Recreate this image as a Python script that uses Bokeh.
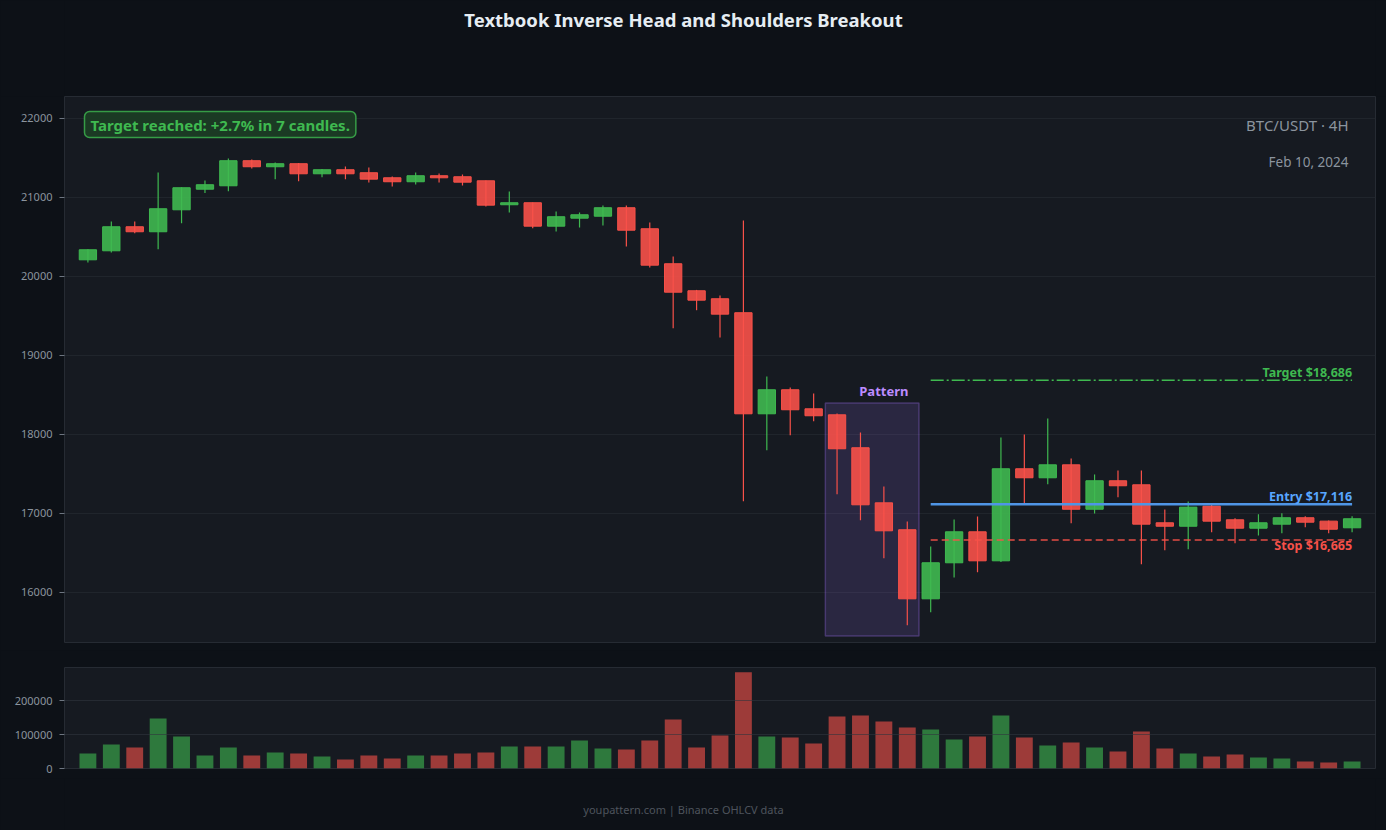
import numpy as np
from bokeh.plotting import figure
from bokeh.layouts import column
from bokeh.models import ColumnDataSource, Label, FixedTicker, NumeralTickFormatter, Range1d
from bokeh.embed import file_html
from bokeh.resources import INLINE
from bokeh.core.properties import value

# ---------------- data ----------------
opens = [20211, 20325, 20629, 20566, 20844, 21105, 21148, 21465, 21389, 21427,
         21300, 21351, 21313, 21249, 21199, 21275, 21262, 21211, 20908, 20933,
         20637, 20738, 20763, 20870, 20604, 20161, 19819, 19718, 19541, 18262,
         18566, 18325, 18249, 17832, 17135, 16794, 15920, 16376, 16768, 16401,
         17566, 17452, 17616, 17054, 17414, 17363, 16882, 16839, 17092, 16920,
         16814, 16865, 16946, 16903, 16819]
highs = [20345, 20696, 20696, 21316, 21130, 21215, 21494, 21480, 21443, 21435,
         21360, 21392, 21380, 21266, 21316, 21304, 21291, 21215, 21076, 20935,
         20823, 20810, 20899, 20899, 20684, 20253, 19830, 19759, 20709, 18734,
         18595, 18519, 18266, 18025, 17342, 16899, 16582, 16924, 16962, 17962,
         18000, 18203, 17696, 17494, 17544, 17544, 17051, 17152, 17130, 16941,
         16991, 17004, 16966, 16910, 16966]
lows = [20177, 20304, 20548, 20346, 20675, 21055, 21080, 21367, 21232, 21206,
        21257, 21232, 21190, 21139, 21165, 21190, 21152, 20886, 20810, 20611,
        20570, 20620, 20646, 20380, 20114, 19346, 19573, 19228, 17156, 17801,
        17991, 18168, 17244, 16915, 16434, 15586, 15751, 16190, 16257, 16385,
        17118, 17371, 16877, 17000, 17206, 16358, 16535, 16548, 16763, 16624,
        16722, 16751, 16827, 16751, 16763]
closes = [20338, 20629, 20566, 20857, 21123, 21161, 21465, 21389, 21427, 21300,
          21351, 21300, 21232, 21199, 21275, 21249, 21194, 20903, 20933, 20637,
          20756, 20781, 20870, 20586, 20143, 19801, 19700, 19523, 18262, 18566,
          18313, 18237, 17819, 17110, 16781, 15920, 16376, 16768, 16401, 17566,
          17452, 17616, 17054, 17414, 17351, 16865, 16839, 17080, 16903, 16814,
          16882, 16946, 16890, 16801, 16933]
volumes = [44300, 70900, 62100, 147800, 94600, 38400, 62100, 38400, 47300, 44300,
           35500, 26600, 38400, 29600, 38400, 38400, 44300, 47300, 65000, 65000,
           65000, 82800, 59100, 56200, 82800, 144800, 62100, 97500, 283700, 94600,
           91600, 73900, 153700, 156700, 138900, 121200, 115300, 85700, 94600, 156700,
           91600, 68000, 76800, 62100, 50200, 109400, 59100, 44300, 35500, 41400,
           32500, 29600, 20700, 17700, 20700]

price_ticks = [16000, 17000, 18000, 19000, 20000, 21000, 22000]
volume_ticks = [0, 100000, 200000]

pattern_first, pattern_last = 32, 35          # candle indices covered by the pattern box
pattern_low, pattern_high = 15450, 18400
breakout_index = 36
target_price, entry_price, stop_price = 18686, 17116, 16665

title_text = "Textbook Inverse Head and Shoulders Breakout"
footer_text = "youpattern.com | Binance OHLCV data"

# ---------------- styles ----------------
PAGE_BG = "#0d1117"
PANEL_BG = "#161a21"
OUTLINE = "#262b33"
GRID = "#232830"
TICK = "#8b949e"
GREEN = "#3fb950"
RED = "#f85149"
BLUE = "#58a6ff"
PURPLE = "#bc8cff"
FONT = "Noto Sans"
W = 1386
LEFT, RIGHT = 64, 11

n = len(opens)
idx = list(range(n))
colors = [GREEN if c >= o else RED for o, c in zip(opens, closes)]
src = ColumnDataSource(dict(
    x=idx, o=opens, h=highs, l=lows, c=closes, v=volumes,
    top=[max(o, c) for o, c in zip(opens, closes)],
    bottom=[min(o, c) for o, c in zip(opens, closes)],
    color=colors,
))


def text_strip(height):
    # frame spans page pixels LEFT .. W-RIGHT (aligned with the panels below)
    f = figure(width=W, height=height, output_backend="svg", toolbar_location=None,
               x_range=Range1d(LEFT, W - RIGHT), y_range=Range1d(height, 0),
               min_border_left=LEFT, min_border_right=RIGHT, min_border_top=0, min_border_bottom=0)
    f.axis.visible = False
    f.grid.visible = False
    f.outline_line_color = None
    f.background_fill_color = PAGE_BG
    f.border_fill_color = PAGE_BG
    return f


# ---------------- title strip ----------------
t = text_strip(96)
t.text(x=[W / 2 - 10], y=[19], text=[title_text], text_color="#e6edf3", text_font=value(FONT),
       text_font_style="bold", text_font_size="18.5px", text_align="center", text_baseline="middle")

# ---------------- main price panel ----------------
p = figure(width=W, height=554, output_backend="svg", toolbar_location=None,
           x_range=(-1, n), y_range=(15367, 22278),
           min_border_left=LEFT, min_border_right=RIGHT, min_border_top=0, min_border_bottom=8)
p.background_fill_color = PANEL_BG
p.border_fill_color = PAGE_BG
p.outline_line_color = OUTLINE
p.xaxis.visible = False
p.xgrid.visible = False
p.ygrid.grid_line_color = GRID
p.ygrid.grid_line_alpha = 0.8
p.yaxis.ticker = FixedTicker(ticks=price_ticks)
p.yaxis.axis_line_color = None
p.yaxis.major_tick_line_color = "#6e7681"
p.yaxis.major_tick_in = 0
p.yaxis.major_tick_out = 5
p.yaxis.minor_tick_line_color = None
p.yaxis.major_label_text_color = TICK
p.yaxis.major_label_text_font = FONT
p.yaxis.major_label_text_font_size = "11px"
p.yaxis.major_label_standoff = 7
p.yaxis.formatter = NumeralTickFormatter(format="0")

# pattern box
p.quad(left=[pattern_first - 0.5], right=[pattern_last + 0.5], bottom=[pattern_low], top=[pattern_high],
       fill_color="#a371f7", fill_alpha=0.15, line_color="#a371f7", line_alpha=0.3, line_width=1.5)
p.text(x=[(pattern_first + pattern_last) / 2 + 0.5], y=[pattern_high], text=["Pattern"],
       text_color=PURPLE, text_font=value(FONT), text_font_style="bold", text_font_size="13px",
       text_align="center", text_baseline="bottom", y_offset=-3)

# candles
p.segment(x0="x", y0="h", x1="x", y1="l", source=src, line_color="color", line_width=1.2)
p.vbar(x="x", width=0.74, top="top", bottom="bottom", source=src,
       fill_color="color", fill_alpha=0.9, line_color="color", line_width=1)

# levels
last = n - 1
p.line([breakout_index, last], [target_price, target_price], line_color=GREEN, line_width=1.6,
       line_dash="13 3 2 3")
p.line([breakout_index, last], [entry_price, entry_price], line_color="#4f95e6", line_width=2.5)
p.line([breakout_index, last], [stop_price, stop_price], line_color=RED, line_width=1.5,
       line_dash="7 4", line_alpha=0.9)
p.text(x=[last], y=[target_price], text=[f"Target ${target_price:,}"], text_color=GREEN,
       text_font=value(FONT), text_font_style="bold", text_font_size="12.5px",
       text_align="right", text_baseline="bottom", y_offset=1)
p.text(x=[last], y=[entry_price], text=[f"Entry ${entry_price:,}"], text_color=BLUE,
       text_font=value(FONT), text_font_style="bold", text_font_size="12.5px",
       text_align="right", text_baseline="bottom", y_offset=1)
p.text(x=[last], y=[stop_price], text=[f"Stop ${stop_price:,}"], text_color=RED,
       text_font=value(FONT), text_font_style="bold", text_font_size="12.5px",
       text_align="right", text_baseline="top", y_offset=-3)

FRAME_BOTTOM = 642
p.add_layout(Label(x=1348 - LEFT, y=FRAME_BOTTOM - 124, x_units="screen", y_units="screen",
                   text="BTC/USDT \u00b7 4H", text_color=TICK, text_font=FONT, text_font_size="15px",
                   text_align="right", text_baseline="middle"))
p.add_layout(Label(x=1348 - LEFT, y=FRAME_BOTTOM - 161, x_units="screen", y_units="screen",
                   text="Feb 10, 2024", text_color=TICK, text_font=FONT, text_font_size="13.5px",
                   text_align="right", text_baseline="middle"))
p.add_layout(Label(x=20, y=FRAME_BOTTOM - 124, x_units="screen", y_units="screen",
                   text="Target reached: +2.7% in 7 candles.", text_color=GREEN, text_font=FONT,
                   text_font_style="bold", text_font_size="15px", text_align="left", text_baseline="middle",
                   background_fill_color="#1b3a24", background_fill_alpha=1.0,
                   border_line_color=GREEN, border_line_alpha=0.8, border_line_width=1.5,
                   padding=(6, 3), border_radius=5))

# ---------------- volume panel ----------------
v = figure(width=W, height=128, output_backend="svg", toolbar_location=None,
           x_range=p.x_range, y_range=(0, 298000),
           min_border_left=LEFT, min_border_right=RIGHT, min_border_top=17, min_border_bottom=10)
v.background_fill_color = PANEL_BG
v.border_fill_color = PAGE_BG
v.outline_line_color = OUTLINE
v.xaxis.visible = False
v.xgrid.visible = False
v.ygrid.grid_line_color = "#30363d"
v.ygrid.grid_line_alpha = 0.6
v.ygrid.level = "overlay"
v.yaxis.ticker = FixedTicker(ticks=volume_ticks)
v.yaxis.formatter = NumeralTickFormatter(format="0")
v.yaxis.axis_line_color = None
v.yaxis.major_tick_line_color = "#6e7681"
v.yaxis.major_tick_in = 0
v.yaxis.major_tick_out = 5
v.yaxis.minor_tick_line_color = None
v.yaxis.major_label_text_color = TICK
v.yaxis.major_label_text_font = FONT
v.yaxis.major_label_text_font_size = "11px"
v.yaxis.major_label_standoff = 7
v.vbar(x="x", width=0.72, top="v", bottom=0, source=src, fill_color="color", fill_alpha=0.6,
       line_color=None)

# ---------------- footer strip ----------------
fo = text_strip(52)
fo.text(x=[W / 2 - 10], y=[31], text=[footer_text], text_color="#4d545d", text_font=value(FONT),
        text_font_size="11px", text_align="center", text_baseline="middle")

layout = column(t, p, v, fo, spacing=0)
layout.styles = {"background-color": PAGE_BG}
html = file_html(layout, INLINE)
html = html.replace("<body>", f"<body style=\"margin:0;background:{PAGE_BG};\">")
open("out.html", "w").write(html)
